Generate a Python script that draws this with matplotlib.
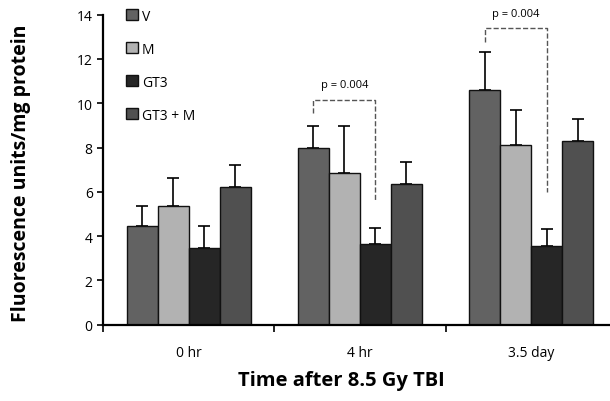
import numpy as np
import matplotlib
matplotlib.use('Agg')
import matplotlib.pyplot as plt

times = ['0 hr', '4 hr', '3.5 day']
groups = ['V', 'M', 'GT3', 'GT3 + M']
v_vals = [4.45, 8.0, 10.6]
m_vals = [5.37, 6.85, 8.12]
gt3_vals = [3.48, 3.64, 3.57]
gt3m_vals = [6.23, 6.37, 8.28]
v_err = [0.9, 0.95, 1.72]
m_err = [1.24, 2.11, 1.58]
gt3_err = [0.98, 0.71, 0.74]
gt3m_err = [1.0, 0.99, 1.01]
colors = ['#626262', '#b2b2b2', '#262626', '#505050']

plt.rcParams['font.family'] = ['Open Sans', 'DejaVu Sans']

fig = plt.figure(figsize=(6.1, 4.02), dpi=100)
ax = fig.add_axes([0.169, 0.19, 0.831, 0.771])

x = np.arange(len(times))
w = 0.181
vals = [v_vals, m_vals, gt3_vals, gt3m_vals]
errs = [v_err, m_err, gt3_err, gt3m_err]
for i in range(4):
    pos = x + (i - 1.5) * w
    ax.bar(pos, vals[i], w, color=colors[i], edgecolor='#111111', linewidth=1.0,
           label=groups[i], zorder=2)
    ax.errorbar(pos, vals[i], yerr=[np.zeros(3), errs[i]], fmt='none', ecolor='black',
                elinewidth=1.2, capsize=4, capthick=1.2, zorder=1)

# significance brackets (V vs GT3)
def bracket(j, top, left_bottom, right_bottom, text_y):
    x1 = x[j] - 1.5 * w
    x2 = x[j] + 0.5 * w
    ax.plot([x1, x1, x2, x2], [left_bottom, top, top, right_bottom], ls='--',
            color='#555555', lw=1.0)
    ax.text((x1 + x2) / 2, text_y, 'p = 0.004', ha='center', va='center', fontsize=8)

bracket(1, 10.16, 9.56, 5.57, 10.85)
bracket(2, 13.39, 12.75, 5.98, 14.05)

ax.set_ylim(0, 14)
ax.set_xlim(-0.5, 2.46)
ax.set_yticks(range(0, 15, 2))
ax.set_xticks(x)
ax.set_xticklabels(times, fontsize=10)
ax.set_xticks([-0.5, 0.5, 1.5], minor=True)
ax.tick_params(axis='x', which='major', length=0, pad=15)
ax.tick_params(axis='x', which='minor', length=5, width=1.2, direction='out')
ax.tick_params(axis='y', length=4, width=1.2, labelsize=10, direction='out')
ax.spines['top'].set_visible(False)
ax.spines['right'].set_visible(False)
ax.spines['left'].set_linewidth(1.6)
ax.spines['bottom'].set_linewidth(1.6)

ax.set_ylabel('Fluorescence units/mg protein', fontsize=14, fontweight='bold')
ax.yaxis.set_label_coords(-0.143, 0.49)
ax.set_xlabel('Time after 8.5 Gy TBI', fontsize=14.5, fontweight='bold')
ax.xaxis.set_label_coords(0.471, -0.147)

ax.legend(loc='upper left', bbox_to_anchor=(0.02, 1.06), frameon=False, fontsize=10,
          handlelength=0.85, handleheight=0.85, handletextpad=0.3, labelspacing=1.3)

fig.savefig('out.png', dpi=100)
